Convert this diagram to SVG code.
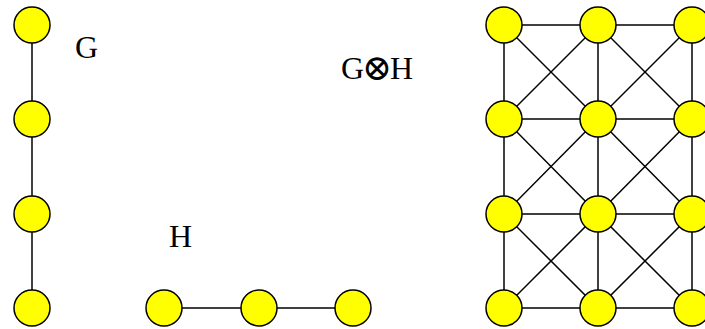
<svg xmlns="http://www.w3.org/2000/svg" width="705" height="329" viewBox="0 0 705 329">
<style>
.e{stroke:#000;stroke-width:1.5;fill:none}
.n{fill:#ffff00;stroke:#000;stroke-width:1.5}
.t{font-family:"Liberation Serif","DejaVu Serif",serif;font-size:32px;fill:#000}
.o{font-family:"DejaVu Serif","DejaVu Sans",serif;font-size:36px}
</style>
<rect width="705" height="329" fill="#fff"/>
<g id="connectors" class="e">
<line x1="32" y1="25" x2="32" y2="308"/>
<line x1="164" y1="308" x2="353" y2="308"/>
<line x1="504" y1="25" x2="692" y2="25"/>
<line x1="504" y1="119" x2="692" y2="119"/>
<line x1="504" y1="214" x2="692" y2="214"/>
<line x1="504" y1="308" x2="692" y2="308"/>
<line x1="504" y1="25" x2="504" y2="308"/>
<line x1="598" y1="25" x2="598" y2="308"/>
<line x1="692" y1="25" x2="692" y2="308"/>
<line x1="504" y1="25" x2="598" y2="119"/><line x1="598" y1="25" x2="504" y2="119"/>
<line x1="598" y1="25" x2="692" y2="119"/><line x1="692" y1="25" x2="598" y2="119"/>
<line x1="504" y1="119" x2="598" y2="214"/><line x1="598" y1="119" x2="504" y2="214"/>
<line x1="598" y1="119" x2="692" y2="214"/><line x1="692" y1="119" x2="598" y2="214"/>
<line x1="504" y1="214" x2="598" y2="308"/><line x1="598" y1="214" x2="504" y2="308"/>
<line x1="598" y1="214" x2="692" y2="308"/><line x1="692" y1="214" x2="598" y2="308"/>
</g>
<g id="G1"><circle class="n" cx="32" cy="25" r="18"/></g>
<g id="G2"><circle class="n" cx="32" cy="119" r="18"/></g>
<g id="G3"><circle class="n" cx="32" cy="214" r="18"/></g>
<g id="G4"><circle class="n" cx="32" cy="308" r="18"/></g>
<g id="H1"><circle class="n" cx="164" cy="308" r="18"/></g>
<g id="H2"><circle class="n" cx="259" cy="308" r="18"/></g>
<g id="H3"><circle class="n" cx="353" cy="308" r="18"/></g>
<g id="P11"><circle class="n" cx="504" cy="25" r="18"/></g>
<g id="P12"><circle class="n" cx="598" cy="25" r="18"/></g>
<g id="P13"><circle class="n" cx="692" cy="25" r="18"/></g>
<g id="P21"><circle class="n" cx="504" cy="119" r="18"/></g>
<g id="P22"><circle class="n" cx="598" cy="119" r="18"/></g>
<g id="P23"><circle class="n" cx="692" cy="119" r="18"/></g>
<g id="P31"><circle class="n" cx="504" cy="214" r="18"/></g>
<g id="P32"><circle class="n" cx="598" cy="214" r="18"/></g>
<g id="P33"><circle class="n" cx="692" cy="214" r="18"/></g>
<g id="P41"><circle class="n" cx="504" cy="308" r="18"/></g>
<g id="P42"><circle class="n" cx="598" cy="308" r="18"/></g>
<g id="P43"><circle class="n" cx="692" cy="308" r="18"/></g>
<g id="labels">
<text class="t" x="341" y="79">G<tspan class="o" x="362" y="80">⊗</tspan><tspan x="390" y="79">H</tspan></text>
<text class="t" x="75" y="58">G</text>
<text class="t" x="169" y="247">H</text>
</g>
</svg>
